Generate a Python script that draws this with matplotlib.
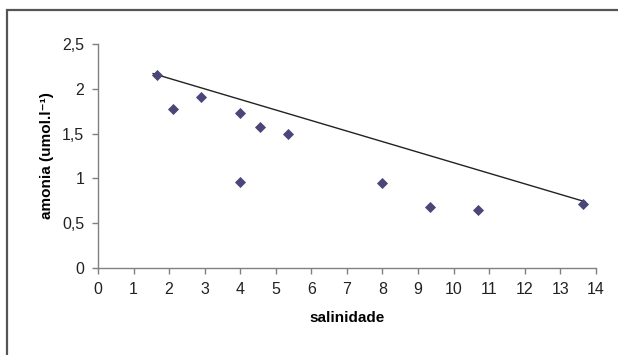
import matplotlib
matplotlib.use("Agg")
import matplotlib.pyplot as plt
from matplotlib.patches import Rectangle

# salinity vs ammonia readings
salinidade = [1.65, 2.1, 2.9, 4.0, 4.0, 4.55, 5.35, 8.0, 9.35, 10.7, 13.65]
amonia = [2.15, 1.77, 1.91, 1.73, 0.96, 1.57, 1.50, 0.95, 0.68, 0.65, 0.72]

# trend line end points as drawn in the original
trend_x = [1.55, 13.7]
trend_y = [2.17, 0.74]

x_ticks = list(range(0, 15))
y_ticks = [0, 0.5, 1, 1.5, 2, 2.5]
y_tick_labels = ["0", "0,5", "1", "1,5", "2", "2,5"]

plt.rcParams['font.family'] = ['Liberation Sans', 'DejaVu Sans']

fig = plt.figure(figsize=(6.18, 3.55), dpi=100)
ax = fig.add_axes([0.1586, 0.245, 0.8054, 0.631])

ax.plot(trend_x, trend_y, color='#222222', lw=1.0)
ax.scatter(salinidade, amonia, marker='D', s=32, color='#4a4778', zorder=3, linewidths=0)

ax.set_xlim(0, 14)
ax.set_ylim(0, 2.5)
ax.set_xticks(x_ticks)
ax.set_yticks(y_ticks)
ax.set_yticklabels(y_tick_labels)

for side in ['top', 'right']:
    ax.spines[side].set_visible(False)
for side in ['left', 'bottom']:
    ax.spines[side].set_color('#808080')
    ax.spines[side].set_linewidth(1.0)

ax.tick_params(axis='both', direction='out', length=4, width=1, color='#808080',
               labelsize=11.5, labelcolor='#222222', pad=6)

ax.set_xlabel('salinidade', fontsize=11, fontweight='bold', labelpad=10)
ax.set_ylabel('amonia (umol.l⁻¹)', fontsize=11, fontweight='bold', labelpad=6)

# outer chart border
fig.patches.append(Rectangle((7 / 618, -0.1), 1.2, 1 - 10 / 355 + 0.1,
                             transform=fig.transFigure, fill=False,
                             edgecolor='#555555', lw=1.6, clip_on=False))

fig.savefig('out.png', dpi=100)
